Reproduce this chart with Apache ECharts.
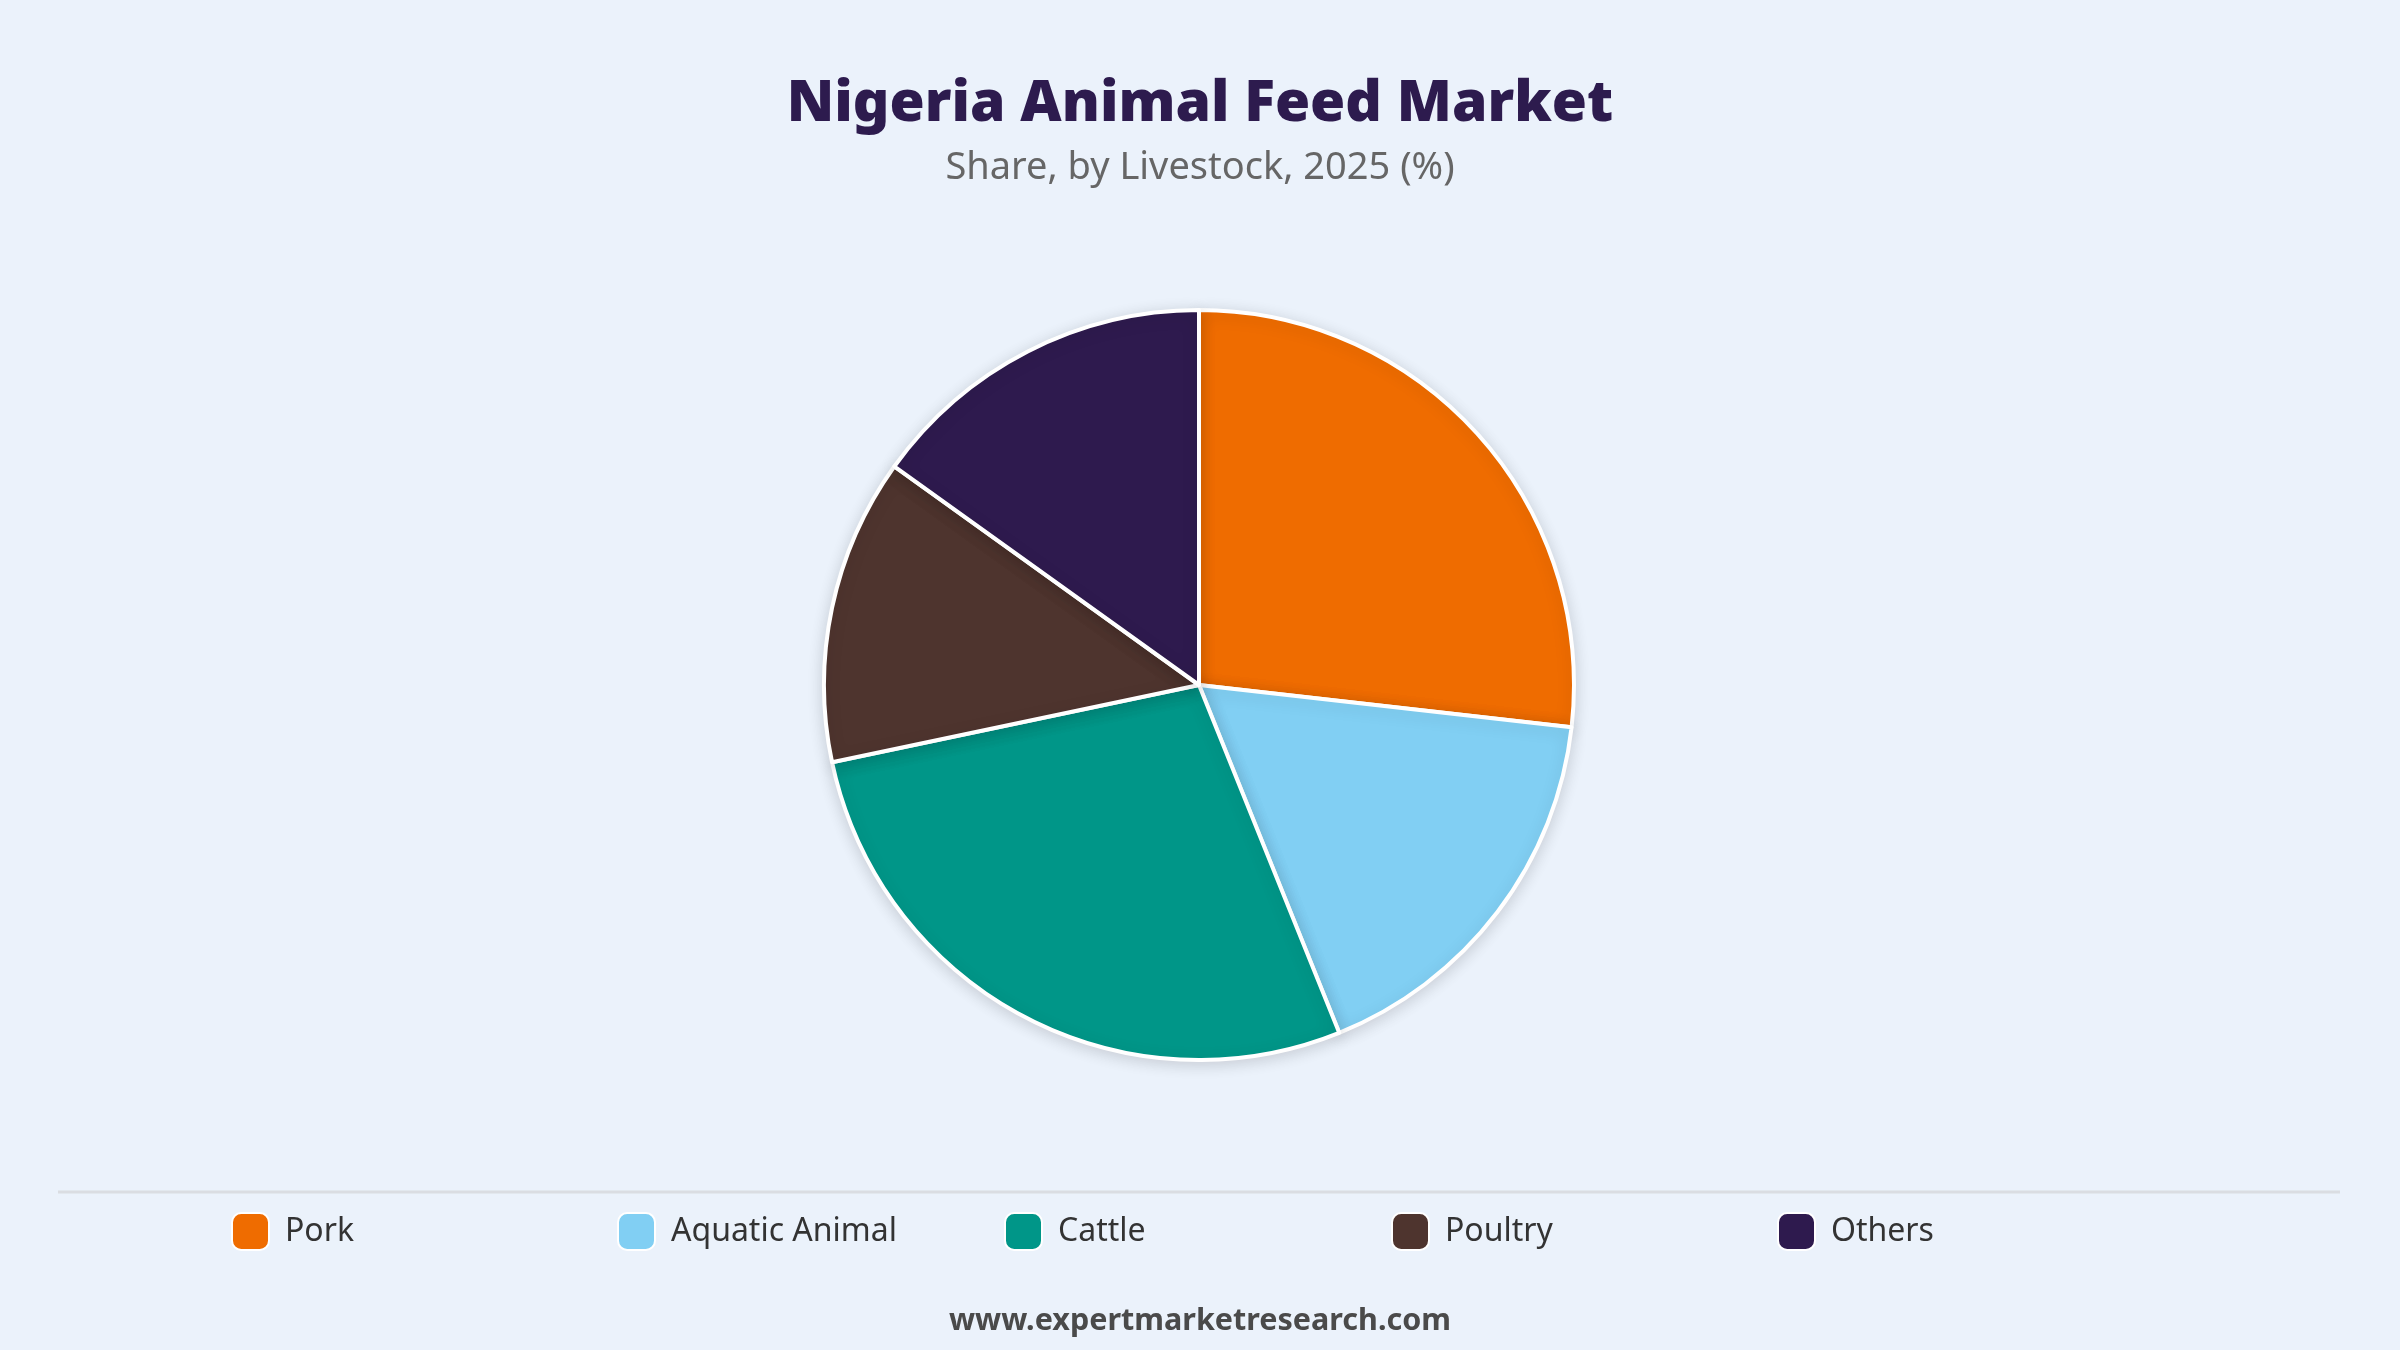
<!DOCTYPE html>
<html>
<head>
<meta charset="utf-8">
<script src="https://cdn.jsdelivr.net/npm/echarts@6/dist/echarts.min.js"></script>
<style>
html,body{margin:0;padding:0;background:#EBF2FB;}
#chart{width:2400px;height:1350px;}
</style>
</head>
<body>
<div id="chart"></div>
<script>
const categories = ['Pork', 'Aquatic Animal', 'Cattle', 'Poultry', 'Others'];
const shares = [26.8, 17.1, 27.8, 13.2, 15.1];
const colors = ['#EF6C00', '#81CFF3', '#009688', '#4E342E', '#2E1A4E'];
const titleText = 'Nigeria Animal Feed Market';
const subtitleText = 'Share, by Livestock, 2025 (%)';
const footerText = 'www.expertmarketresearch.com';

const FONT = '"Noto Sans", "Open Sans", sans-serif';
const legendLefts = [226, 612, 999, 1386, 1772];

const chart = echarts.init(document.getElementById('chart'), null, {renderer: 'canvas'});

const legends = categories.map((c, i) => ({
  show: true,
  data: [c],
  left: legendLefts[i],
  top: 1207,
  itemWidth: 37,
  itemHeight: 37,
  icon: 'roundRect',
  selectedMode: false,
  textStyle: {fontFamily: FONT, fontSize: 32, color: '#333333', padding: [0, 0, 0, 11]}
}));

chart.setOption({
  backgroundColor: '#EBF2FB',
  color: colors,
  title: [
    {text: titleText, left: 'center', top: 71,
     textStyle: {fontFamily: FONT, fontSize: 57, fontWeight: 900, color: '#2D1B4E'}},
    {text: subtitleText, left: 'center', top: 144,
     textStyle: {fontFamily: FONT, fontSize: 38, fontWeight: 'normal', color: '#666666'}},
    {text: footerText, left: 'center', top: 1301,
     textStyle: {fontFamily: FONT, fontSize: 30.5, fontWeight: 'bold', color: '#4A4A4A'}}
  ],
  legend: legends,
  graphic: [{
    type: 'line', shape: {x1: 58, y1: 1192, x2: 2340, y2: 1192},
    style: {stroke: '#DADDE2', lineWidth: 3}
  }],
  series: [{
    type: 'pie',
    center: [1199, 685],
    radius: 375,
    startAngle: 90,
    clockwise: true,
    label: {show: false},
    labelLine: {show: false},
    emphasis: {disabled: true},
    animation: false,
    itemStyle: {borderColor: '#FFFFFF', borderWidth: 4, shadowBlur: 16, shadowOffsetY: 3, shadowColor: 'rgba(0,0,0,0.14)'},
    data: categories.map((c, i) => ({name: c, value: shares[i]}))
  }]
});
</script>
</body>
</html>
